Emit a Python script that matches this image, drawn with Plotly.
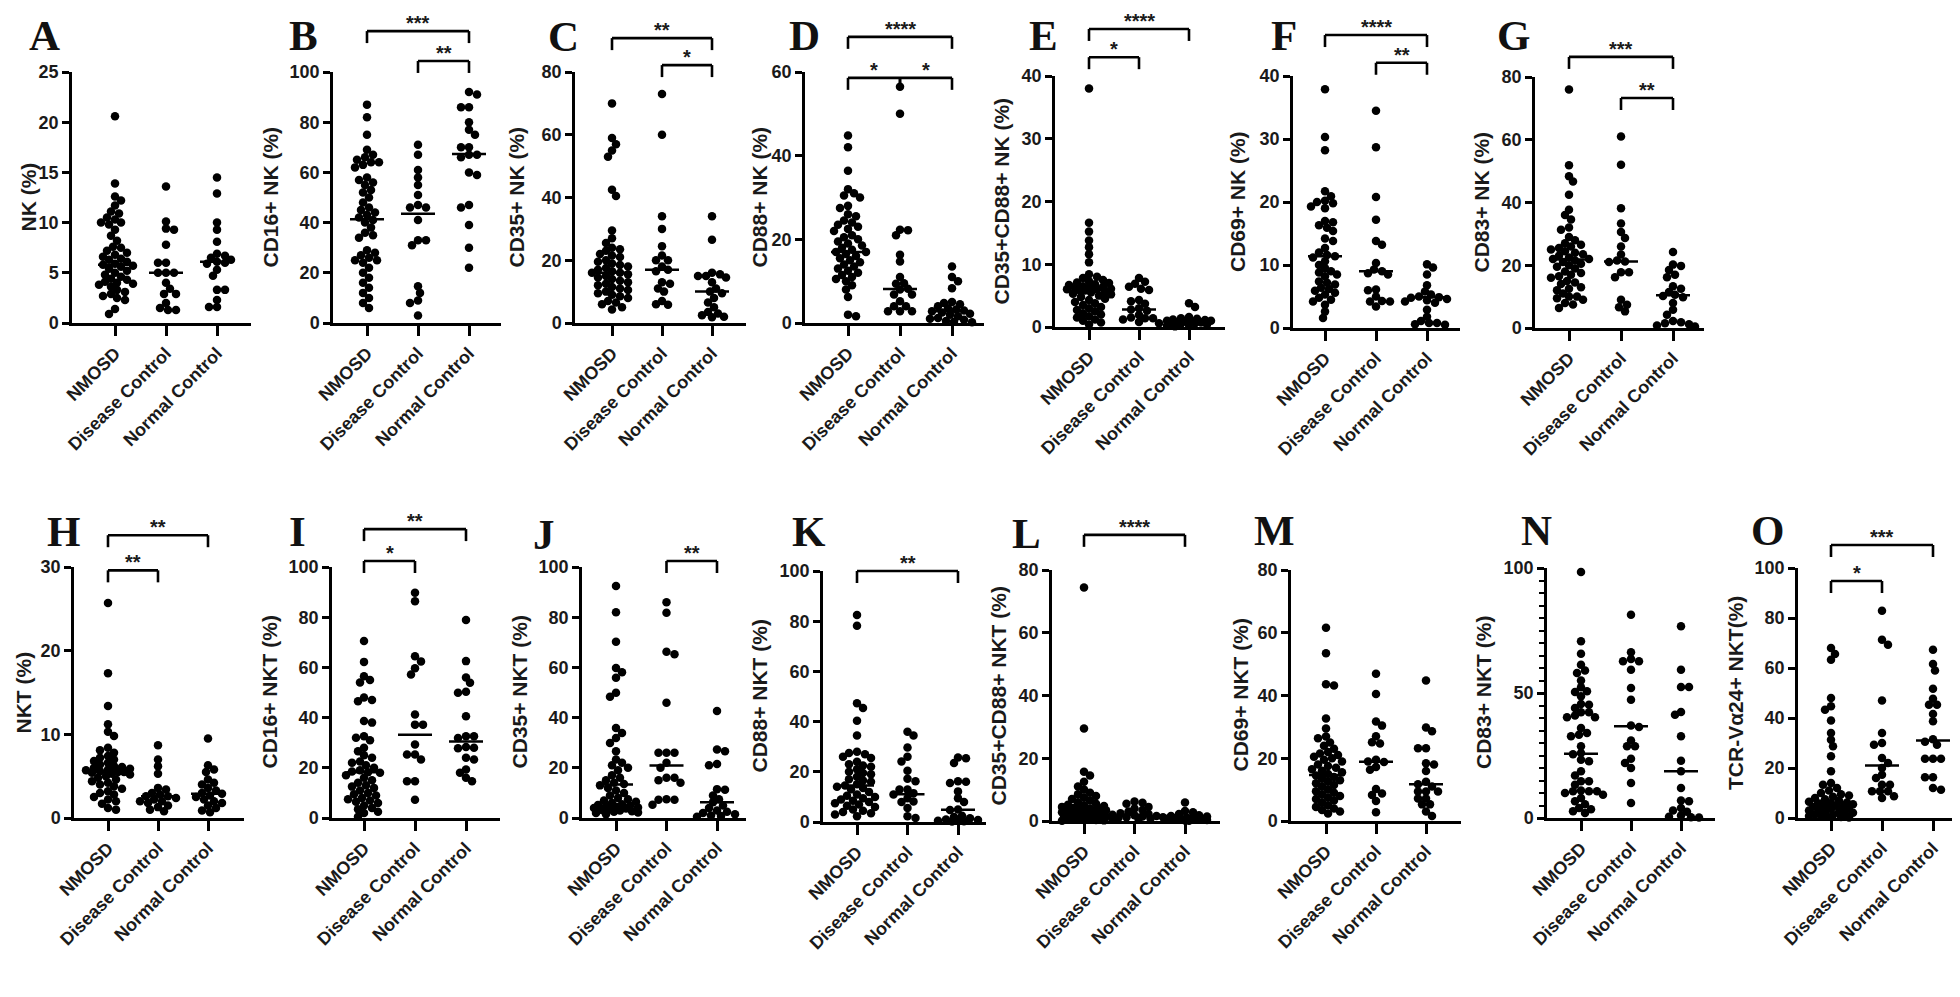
import numpy as np
import plotly.graph_objects as go

W, H = 1960, 997
GROUPS = ["NMOSD", "Disease Control", "Normal Control"]

# ------------------------------------------------------------------ data
A_nmosd = [20.6, 13.9, 12.6, 12.2, 11.7, 11.1, 10.9, 10.5, 10.3, 10.0, 10.0, 9.8, 9.3, 8.7, 8.2, 7.6, 7.5, 7.2, 7.0, 6.8, 6.6, 6.4, 6.3, 6.1, 5.9, 5.8, 5.7, 5.6, 5.4, 5.2, 5.0, 4.8, 4.6, 4.4, 4.3, 4.1, 4.0, 3.9, 3.8, 3.6, 3.3, 3.1, 2.9, 2.7, 2.5, 2.3, 1.4, 0.9]
A_disease = [13.6, 10.1, 9.4, 9.3, 7.8, 6.0, 6.0, 5.0, 5.0, 5.0, 4.0, 3.4, 2.9, 2.9, 2.0, 1.5, 1.3, 1.3]
A_normal = [14.5, 12.9, 10.0, 9.3, 8.1, 6.9, 6.7, 6.5, 6.3, 6.1, 6.0, 5.9, 5.3, 4.7, 3.3, 3.3, 2.3, 1.6, 1.6]
A_median = [5.8, 5.0, 6.1]

B_nmosd = [87, 82, 75, 69, 67, 66, 65, 64, 64, 63, 62, 58, 57, 56, 55, 53, 52, 50, 48, 46, 45, 44, 43, 42, 41, 40, 38, 36, 35, 34, 29, 28, 27, 26, 25, 25, 24, 22, 20, 18, 16, 14, 12, 10, 8, 6]
B_disease = [71, 67, 61, 58, 55, 51, 47, 46, 46, 41, 33, 33, 31, 14.6, 12, 9, 8, 3]
B_normal = [92, 91, 86, 86, 80, 77, 75, 70, 70, 67, 67, 66, 60, 59, 47, 46, 39, 30, 22]
B_median = [41.3, 43.5, 67.3]

C_nmosd = [70, 59, 57, 55, 53, 42.5, 40.5, 29.5, 27, 25.5, 24, 23.5, 23, 22, 21.5, 21, 20, 19.5, 19, 18.5, 18, 17.5, 17, 16.5, 16, 16, 15.5, 15, 14.5, 14, 13.5, 13, 12.5, 12, 11.5, 11, 10.5, 10, 9.5, 9, 8.5, 8, 7, 6.5, 6, 5, 4.3]
C_disease = [73, 60, 34, 30, 24.5, 21.5, 20, 20, 18, 17, 16.5, 13, 12.5, 11, 10, 7, 6, 5.8]
C_normal = [34, 26.5, 16, 15.5, 15, 15, 14.5, 13, 11, 10, 9.5, 8, 6.5, 5, 3.5, 3, 2.5, 2, 1.8]
C_median = [16.0, 17.0, 10.0]

D_nmosd = [44.8, 42, 36.4, 32, 31, 30.5, 30, 28, 27.5, 26, 25.5, 24.5, 24, 23.5, 23, 22.5, 22, 21, 20.5, 20, 19.5, 19, 18.5, 18, 17.5, 17, 17, 16.5, 16, 15.5, 15, 14.5, 14, 13.5, 13, 12.5, 12, 11.5, 11, 10.5, 10, 9, 8, 6.2, 2, 1.6]
D_disease = [56.5, 50, 22.3, 22.2, 21, 16.3, 14.7, 11, 9.5, 9.4, 8.2, 8, 6.8, 6.8, 5.2, 4, 4, 2.8, 2.8, 2.8]
D_normal = [13.5, 11, 10, 8.3, 5, 4.8, 4.5, 4, 3.5, 3.2, 3, 2.8, 2.5, 2.2, 2, 1.6, 1.2, 1, 0.8, 0.5, 0.3, 0.2]
D_median = [17.0, 8.1, 2.8]

E_nmosd = [38, 16.6, 15.2, 13.8, 12.7, 11.6, 10.3, 8.4, 8, 7.8, 7.5, 7.3, 7.1, 7, 6.8, 6.7, 6.5, 6.4, 6.3, 6.2, 6.1, 6, 6, 5.9, 5.8, 5.6, 5.5, 5.3, 5.2, 5, 4.8, 4.5, 4.3, 4, 3.8, 3.5, 3.2, 3, 2.7, 2.5, 2.2, 2, 1.7, 1.5, 1.2, 1, 0.7, 0.4]
E_disease = [7.8, 7.2, 6.9, 6.4, 6.1, 5.9, 4.3, 4.1, 3.7, 3, 2.8, 2.6, 1.9, 1.5, 1.4, 1.4, 1.2, 0.8, 0.6]
E_normal = [3.8, 3.2, 1.6, 1.4, 1.3, 1.2, 1.1, 1.0, 1.0, 0.9, 0.9, 0.8, 0.7, 0.6, 0.5, 0.5, 0.4, 0.3, 0.2, 0.1]
E_median = [6.0, 2.8, 0.9]

F_nmosd = [37.9, 30.3, 28.2, 21.7, 20.9, 20.2, 20, 19.8, 19.3, 19, 17, 16.8, 16.3, 15.9, 15.4, 14.2, 13.8, 12.7, 12, 11.6, 11.4, 11.2, 10.6, 10, 9.5, 9, 8.8, 8.5, 8.2, 7.4, 7.2, 6.9, 6.4, 6.2, 5.9, 5.6, 5.3, 4.8, 4.5, 4.2, 3.7, 2.6, 1.6]
F_disease = [34.5, 28.7, 20.8, 17.2, 13.8, 13.2, 10.3, 9.3, 9.0, 8.7, 8.5, 6.1, 6.0, 5.0, 4.3, 4.2, 4.2, 3.4]
F_normal = [10.1, 9.6, 8.5, 6.8, 5.8, 5.3, 5.0, 4.9, 4.8, 4.6, 4.4, 4.2, 4.0, 2.9, 1.8, 1.1, 0.8, 0.8, 0.6, 0.5]
F_median = [11.4, 9.0, 4.9]

G_nmosd = [76, 51.9, 48.4, 46.7, 42.5, 37.7, 36, 34.6, 32, 31.3, 29, 28, 27, 26.5, 26, 25.5, 25, 24.5, 24, 23.5, 23, 22.5, 22, 22, 21.5, 21, 20.5, 20, 19.5, 19, 18, 17.5, 17, 16.5, 16, 15, 14.5, 14, 13, 12.5, 12, 11, 10, 10, 9.5, 9, 8, 7.5, 6.4]
G_disease = [61, 52, 38.2, 33.3, 30.6, 28.7, 26, 23.4, 21.5, 21.2, 21, 17.8, 17.8, 16.2, 9, 7.4, 6.6, 5.3]
G_normal = [24.2, 20.2, 19.8, 18.5, 17, 16.2, 13.3, 12.5, 11.5, 10.6, 10.2, 9.8, 8, 5.8, 4.2, 2.2, 1.8, 1.5, 1.2, 0.8, 0.5]
G_median = [21.8, 21.2, 10.4]

H_nmosd = [25.7, 17.3, 13.4, 11.2, 10.3, 9.8, 8.4, 8.1, 7.8, 7.4, 7.2, 7, 6.8, 6.6, 6.4, 6.2, 6.1, 6, 5.9, 5.8, 5.7, 5.6, 5.5, 5.5, 5.4, 5.3, 5.2, 5, 4.8, 4.6, 4.4, 4.2, 4, 3.8, 3.5, 3.2, 3, 2.8, 2.5, 2.2, 2, 1.7, 1.2, 1.0]
H_disease = [8.7, 7.0, 6.2, 5.3, 3.6, 3.4, 3.0, 2.8, 2.6, 2.6, 2.4, 2.2, 2.0, 2.0, 1.8, 1.5, 1.3, 1.0, 0.8]
H_normal = [9.5, 6.3, 5.8, 5.5, 4.6, 4.2, 4.0, 3.6, 3.3, 3.0, 2.9, 2.7, 2.5, 2.2, 2.0, 1.8, 1.5, 1.2, 0.9, 0.7]
H_median = [5.5, 2.6, 2.9]

I_nmosd = [70.5, 62.2, 56.5, 55, 54, 48, 47, 46.5, 38.6, 38, 32.6, 32, 31, 28, 26.6, 25, 24, 22.5, 22, 21, 20, 19, 18.5, 18.2, 18, 17, 16, 15, 14, 13, 12.5, 12, 11, 10, 9.5, 9, 8, 7.5, 7, 6.5, 6, 5, 4, 3.5, 2.5, 2, 0.5]
I_disease = [89.7, 86.4, 64.4, 62.4, 59.7, 57.2, 41.2, 37.2, 37.2, 29.3, 25.3, 25.3, 23.3, 14.6, 14.6, 7.3]
I_normal = [78.9, 62.5, 56, 53.9, 50.3, 49.9, 40.5, 32.6, 32.6, 31.9, 28.3, 28, 27.8, 24, 23.3, 19.3, 18, 16, 14.6]
I_median = [18.2, 33.2, 30.5]

J_nmosd = [92.4, 82, 70.2, 59.8, 58.1, 55.9, 49.9, 48.3, 35.9, 33.9, 31.9, 29.9, 26.6, 23.3, 22, 21, 20, 19, 17, 16, 15, 14, 13.5, 13, 12, 11, 10, 9, 8, 7.5, 7, 6.5, 6, 5.5, 5.2, 5, 4.8, 4.5, 4.2, 4, 3.8, 3.5, 3.2, 3, 2.7, 2.5, 2.2, 2, 1.5]
J_disease = [86, 81.8, 66.2, 65.2, 45.9, 26, 26, 26, 22, 20, 16, 16, 15, 14, 7.5, 7.3, 7.3, 5.3]
J_normal = [42.6, 27.3, 26.6, 21.5, 21, 11.5, 11.3, 9, 7.5, 6.3, 5, 4, 3, 2.5, 2, 1.5, 1, 0.8, 0.5]
J_median = [13.3, 20.9, 6.3]

K_nmosd = [82.5, 78.2, 47.3, 45.4, 40.3, 34.5, 28, 27.5, 27, 26, 25.5, 24, 23, 22.5, 22, 21, 20, 19.5, 19, 18, 17, 16.5, 16, 15, 14.5, 14, 13.5, 13, 12, 11, 10.5, 10, 9.5, 9, 8.5, 8, 7.5, 7, 6.5, 6, 5, 4.5, 4, 3.5, 3, 2.3]
K_disease = [36, 34.5, 29.7, 26, 24.1, 20.4, 17.2, 16.2, 12.9, 12.9, 11.5, 11, 9.5, 8.2, 8, 5.6, 2.3, 1.6]
K_normal = [25.7, 25.4, 23.5, 16.2, 16, 15.5, 12.2, 9.5, 8, 5, 4.8, 2.5, 2, 1.5, 1, 0.8, 0.5, 0.5, 0.3, 0.2]
K_median = [14.5, 11.1, 4.9]

L_nmosd = [74.4, 29.5, 15.7, 14.5, 12.5, 11, 10, 9, 8.5, 8, 7.5, 7, 6.5, 6, 5.5, 5.2, 5, 4.8, 4.5, 4.2, 4, 3.8, 3.6, 3.5, 3.4, 3.2, 3, 2.8, 2.6, 2.4, 2.2, 2, 1.8, 1.6, 1.4, 1.2, 1, 0.9, 0.8, 0.7, 0.6, 0.5, 0.4, 0.3, 0.2, 0.1]
L_disease = [6.2, 5.8, 5.5, 4.5, 4, 3.5, 3, 2.5, 2.2, 2, 1.8, 1.6, 1.4, 1.2, 1, 0.8, 0.6, 0.4]
L_normal = [5.9, 3.2, 2.8, 2.2, 1.8, 1.6, 1.4, 1.2, 1.1, 1.0, 0.9, 0.8, 0.7, 0.6, 0.5, 0.4, 0.3, 0.2, 0.1]
L_median = [3.5, 2.0, 1.0]

M_nmosd = [61.6, 53.5, 43.6, 43.2, 32.7, 29.5, 26.9, 26.4, 25, 24, 23, 22, 21.5, 21, 20.5, 20, 19.5, 19, 18, 17.5, 17, 16.5, 16, 15.5, 15, 14.5, 14, 13.5, 13, 12.5, 12, 11.5, 11, 10, 9.5, 9, 8.5, 8, 7.5, 7, 6.5, 6, 5, 4.5, 4, 3.5, 3, 2.4]
M_disease = [46.9, 40.5, 31.7, 30.4, 27, 25.1, 24.7, 19.5, 19, 18.8, 17.2, 16.3, 10.2, 8.8, 8.3, 6.4, 2.8]
M_normal = [44.8, 29.8, 28.6, 23.2, 23.2, 18.4, 18, 15.9, 12.5, 11.7, 11, 9.4, 9.4, 9.4, 7.2, 7.2, 5.3, 5.3, 3, 1.6]
M_median = [14.7, 18.9, 11.7]

N_nmosd = [98.4, 70.7, 65.7, 61.3, 59, 58, 55, 52.3, 50.7, 50.4, 48.7, 45.6, 45.3, 44, 42.3, 42.3, 41, 40.3, 40.3, 36, 34, 33.3, 32.7, 28.7, 26, 25.5, 23.3, 22.7, 18.7, 17, 14.7, 14.7, 13.3, 11, 10.7, 10.7, 10.7, 10, 9.3, 8, 6.7, 5.5, 4, 3.5, 2.7, 2]
N_disease = [81.3, 66.3, 63.6, 62.7, 62.7, 59.3, 52, 47.3, 37, 36.4, 31, 28.7, 28.7, 23.7, 22, 20, 14, 6]
N_normal = [76.7, 59.3, 52.4, 52.4, 42.4, 41.3, 32.7, 22.9, 18.7, 12, 7, 6.7, 4, 3, 2.5, 1, 0.5, 0.3, 0.2]
N_median = [25.7, 36.7, 18.7]

O_nmosd = [68, 65.6, 63.3, 48, 44.7, 43.3, 39, 34, 31.3, 28.7, 24.7, 18.7, 14, 13.3, 12, 11, 10, 9.5, 9, 8.5, 8, 7.5, 7, 6.5, 6.2, 6, 5.8, 5.5, 5, 4.8, 4.5, 4.2, 4, 3.6, 3.3, 3, 2.7, 2.4, 2.1, 1.8, 1.5, 1.2, 1, 0.8, 0.6, 0.4, 0.2]
O_disease = [82.9, 71.3, 69.3, 47, 34, 30, 29.3, 24, 22, 20, 17.3, 16, 13.3, 13.3, 10.7, 10.7, 10.7, 8.7, 8]
O_normal = [67.3, 61.6, 59, 51.7, 47.7, 45.3, 45.3, 41.6, 38.7, 31.5, 30.5, 29.3, 23.7, 23.7, 23.7, 16.3, 16.3, 12, 11.3]
O_median = [6.0, 21.0, 31.0]

# significance brackets: (group i, group j, level in data units, label)
B_brackets = [(0, 2, 116.3, "***"), (1, 2, 104.4, "**")]
C_brackets = [(0, 2, 90.8, "**"), (1, 2, 82.2, "*")]
D_brackets = [(0, 2, 68.4, "****"), (0, 1, 58.6, "*"), (1, 2, 58.6, "*")]
E_brackets = [(0, 2, 47.5, "****"), (0, 1, 43.0, "*")]
F_brackets = [(0, 2, 46.5, "****"), (1, 2, 42.1, "**")]
G_brackets = [(0, 2, 86.4, "***"), (1, 2, 73.3, "**")]
H_brackets = [(0, 2, 33.8, "**"), (0, 1, 29.6, "**")]
I_brackets = [(0, 2, 115.1, "**"), (0, 1, 102.4, "*")]
J_brackets = [(1, 2, 102.4, "**")]
K_brackets = [(0, 2, 100.0, "**")]
L_brackets = [(0, 2, 91.2, "****")]
O_brackets = [(0, 2, 109.2, "***"), (0, 1, 94.8, "*")]

# ------------------------------------------------------------------ panels
panels = [
    ("A", "NK (%)", (A_nmosd, A_disease, A_normal), A_median, 25, [0, 5, 10, 15, 20, 25], []),
    ("B", "CD16+ NK (%)", (B_nmosd, B_disease, B_normal), B_median, 100, [0, 20, 40, 60, 80, 100], B_brackets),
    ("C", "CD35+ NK (%)", (C_nmosd, C_disease, C_normal), C_median, 80, [0, 20, 40, 60, 80], C_brackets),
    ("D", "CD88+ NK (%)", (D_nmosd, D_disease, D_normal), D_median, 60, [0, 20, 40, 60], D_brackets),
    ("E", "CD35+CD88+ NK (%)", (E_nmosd, E_disease, E_normal), E_median, 40, [0, 10, 20, 30, 40], E_brackets),
    ("F", "CD69+ NK (%)", (F_nmosd, F_disease, F_normal), F_median, 40, [0, 10, 20, 30, 40], F_brackets),
    ("G", "CD83+ NK (%)", (G_nmosd, G_disease, G_normal), G_median, 80, [0, 20, 40, 60, 80], G_brackets),
    ("H", "NKT (%)", (H_nmosd, H_disease, H_normal), H_median, 30, [0, 10, 20, 30], H_brackets),
    ("I", "CD16+ NKT (%)", (I_nmosd, I_disease, I_normal), I_median, 100, [0, 20, 40, 60, 80, 100], I_brackets),
    ("J", "CD35+ NKT (%)", (J_nmosd, J_disease, J_normal), J_median, 100, [0, 20, 40, 60, 80, 100], J_brackets),
    ("K", "CD88+ NKT (%)", (K_nmosd, K_disease, K_normal), K_median, 100, [0, 20, 40, 60, 80, 100], K_brackets),
    ("L", "CD35+CD88+ NKT (%)", (L_nmosd, L_disease, L_normal), L_median, 80, [0, 20, 40, 60, 80], L_brackets),
    ("M", "CD69+ NKT (%)", (M_nmosd, M_disease, M_normal), M_median, 80, [0, 20, 40, 60, 80], []),
    ("N", "CD83+ NKT (%)", (N_nmosd, N_disease, N_normal), N_median, 100, [0, 50, 100], []),
    ("O", "TCR-Vα24+ NKT(%)", (O_nmosd, O_disease, O_normal), O_median, 100, [0, 20, 40, 60, 80, 100], O_brackets),
]

# geometry in page pixels: y-axis x, x-axis end, first cat x, last cat x,
# y of zero, y of top tick, title offset, letter x, letter y
GEOM = {
    "A": (64, 243, 107, 209, 315, 64, 44, 36, 27),
    "B": (325, 493, 359, 461, 315, 64, 63, 295, 27),
    "C": (567, 738, 604, 704, 315, 64, 59, 555, 28),
    "D": (797, 976, 840, 944, 315, 64, 46, 796, 27),
    "E": (1047, 1217, 1081, 1181, 319, 68, 54, 1035, 27),
    "F": (1285, 1452, 1317, 1419, 320, 68, 55, 1276, 27),
    "G": (1527, 1696, 1561, 1665, 320, 69, 54, 1505, 27),
    "H": (66, 236, 100, 200, 810, 559, 51, 55, 523),
    "I": (324, 492, 356, 458, 810, 559, 63, 289, 523),
    "J": (574, 738, 608, 709, 810, 559, 63, 536, 526),
    "K": (815, 978, 849, 950, 814, 563, 64, 801, 523),
    "L": (1044, 1212, 1076, 1177, 813, 562, 54, 1018, 525),
    "M": (1283, 1453, 1318, 1418, 813, 562, 51, 1266, 522),
    "N": (1539, 1707, 1573, 1673, 810, 560, 64, 1528, 522),
    "O": (1790, 1958, 1823, 1925, 810, 560, 63, 1759, 522),
}

TICKFONT = dict(family="Liberation Sans, Arial, sans-serif", size=18, color="#1a1a1a", weight=700)
TITLEFONT = dict(family="Liberation Sans, Arial, sans-serif", size=21, color="#1a1a1a", weight=700)
LETTERFONT = dict(family="Liberation Serif, Times New Roman, serif", size=43, color="#111", weight=700)
STARFONT = dict(family="Liberation Sans, Arial, sans-serif", size=20, color="#1a1a1a", weight=700)


def swarm(vals, ppu, dia=6.6, step=2.0, maxoff=22):
    vals = np.asarray(vals, dtype=float)
    order = np.argsort(-vals, kind="stable")
    placed = []
    offs = np.zeros(len(vals))
    cands = [0.0]
    k = 1
    while k * step <= maxoff:
        cands += [k * step, -k * step]
        k += 1
    flip = 1
    for i in order:
        ypx = vals[i] * ppu
        chosen = None
        best, bestd = 0.0, -1.0
        for c in cands:
            cc = c * flip
            d = min([np.hypot(cc - px, ypx - py) for px, py in placed], default=1e9)
            if d >= dia:
                chosen = cc
                break
            if d > bestd:
                best, bestd = cc, d
        if chosen is None:
            chosen = best
        if chosen != 0:
            flip = -flip
        placed.append((chosen, ypx))
        offs[i] = chosen
    return offs


fig = go.Figure()
shapes = []
annotations = []
layout_axes = {}

for n, (key, ytitle, data, med, ymax, ticks, brackets) in enumerate(panels, start=1):
    xl, xr, c0, c2, y0, ytop, toff, lx, ly = GEOM[key]
    s = (c2 - c0) / 2.0
    ppu = (y0 - ytop) / ymax
    xa = "x" if n == 1 else f"x{n}"
    ya = "y" if n == 1 else f"y{n}"

    def to_px_x(cat, c0=c0, s=s):
        return c0 + cat * s

    def to_px_y(v, y0=y0, ppu=ppu):
        return y0 - v * ppu

    for g, vals in enumerate(data):
        offs = swarm(vals, ppu)
        fig.add_trace(go.Scatter(
            x=[g + o / s for o in offs], y=vals, mode="markers",
            marker=dict(size=8.5, color="black", line=dict(width=0)),
            xaxis=xa, yaxis=ya, cliponaxis=False, hoverinfo="y", showlegend=False))
    mx, my = [], []
    hw = 17.0 / s
    for g, m in enumerate(med):
        mx += [g - hw, g + hw, None]
        my += [m, m, None]
    fig.add_trace(go.Scatter(x=mx, y=my, mode="lines", line=dict(color="black", width=2.5),
                             xaxis=xa, yaxis=ya, cliponaxis=False, hoverinfo="skip", showlegend=False))

    xaxis = dict(
        domain=[xl / W, xr / W], range=[(xl - c0) / s, (xr - c0) / s],
        tickmode="array", tickvals=[0, 1, 2], ticktext=GROUPS, tickangle=-45,
        tickfont=TICKFONT, showline=True, linewidth=2.5, linecolor="black",
        ticks="outside", ticklen=10, tickwidth=2.5, tickcolor="black",
        showgrid=False, zeroline=False, anchor=ya, automargin=False, fixedrange=True)
    yaxis = dict(
        domain=[1 - y0 / H, 1 - ytop / H], range=[0, ymax],
        tickmode="array", tickvals=ticks, tickfont=TICKFONT,
        showline=True, linewidth=2.5, linecolor="black",
        ticks="outside", ticklen=7, tickwidth=2.5, tickcolor="black",
        showgrid=False, zeroline=False, anchor=xa, automargin=False, fixedrange=True)
    if key == "N":
        yaxis["minor"] = dict(tickmode="array",
                              tickvals=[v for v in range(5, 100, 5) if v % 50 != 0],
                              ticks="outside", ticklen=5, tickwidth=1.8, tickcolor="black")
    layout_axes["xaxis" if n == 1 else f"xaxis{n}"] = xaxis
    layout_axes["yaxis" if n == 1 else f"yaxis{n}"] = yaxis

    # y-axis title
    annotations.append(dict(
        text=ytitle, textangle=-90, xref="paper", yref="paper",
        x=(xl - toff) / W, y=1 - ((y0 + ytop) / 2) / H,
        xanchor="center", yanchor="middle", showarrow=False, font=TITLEFONT))
    # panel letter
    annotations.append(dict(
        text=key, xref="paper", yref="paper", x=lx / W, y=1 - ly / H,
        xanchor="center", yanchor="middle", showarrow=False, font=LETTERFONT))

    # significance brackets
    for (i, j, lvl, lab) in brackets:
        xi, xj = to_px_x(i), to_px_x(j)
        yb = to_px_y(lvl)
        drop = 12
        line = dict(color="black", width=2.6)
        shapes.append(dict(type="line", xref="paper", yref="paper",
                           x0=xi / W, x1=xj / W, y0=1 - yb / H, y1=1 - yb / H, line=line))
        for xx in (xi, xj):
            shapes.append(dict(type="line", xref="paper", yref="paper",
                               x0=xx / W, x1=xx / W, y0=1 - yb / H, y1=1 - (yb + drop) / H, line=line))
        annotations.append(dict(
            text=lab, xref="paper", yref="paper", x=((xi + xj) / 2) / W, y=1 - (yb - 8) / H,
            xanchor="center", yanchor="middle", showarrow=False, font=STARFONT))

# faint scan-edge lines along the bottom of the page
for (xa0, xa1, yy) in [(1217, 1463, 995), (1463, 1712, 993), (1717, 1960, 995)]:
    shapes.append(dict(type="line", xref="paper", yref="paper", x0=xa0 / W, x1=xa1 / W,
                       y0=1 - yy / H, y1=1 - yy / H, line=dict(color="#cfcfcf", width=2)))

fig.update_layout(
    width=W, height=H, margin=dict(l=0, r=0, t=0, b=0),
    paper_bgcolor="white", plot_bgcolor="white", template="none",
    showlegend=False, shapes=shapes, annotations=annotations, **layout_axes)

fig.write_html("out.html")
